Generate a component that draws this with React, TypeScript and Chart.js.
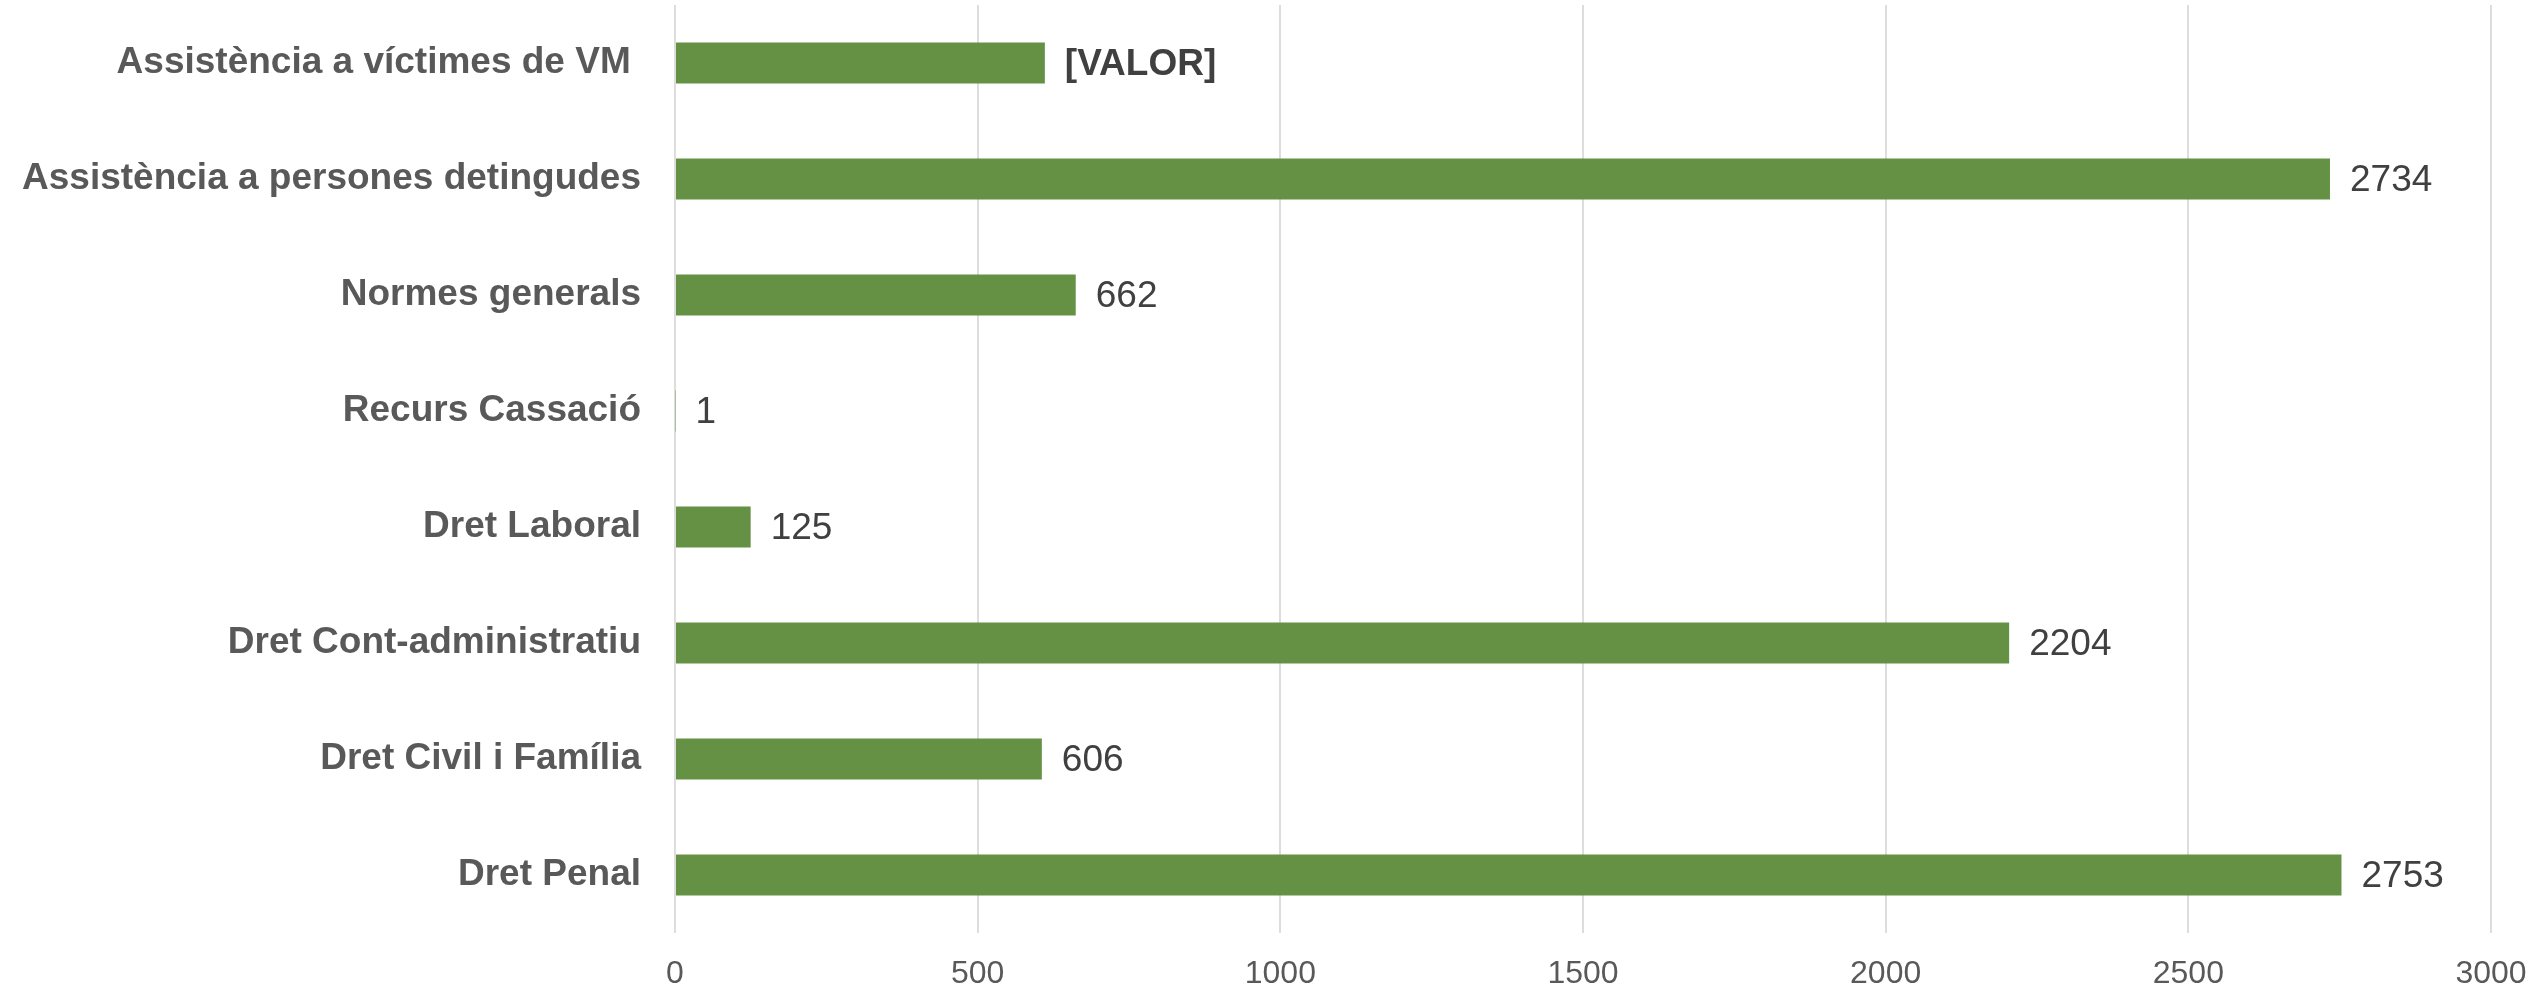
import React, { useEffect, useRef } from "react";
import { Chart, registerables } from "chart.js";

Chart.register(...registerables);

const categories = [
  "Assistència a víctimes de VM ",
  "Assistència a persones detingudes",
  "Normes generals",
  "Recurs Cassació",
  "Dret Laboral",
  "Dret Cont-administratiu",
  "Dret Civil i Família",
  "Dret Penal",
];

const values = [611, 2734, 662, 1, 125, 2204, 606, 2753];

const valueLabels = ["[VALOR]", "2734", "662", "1", "125", "2204", "606", "2753"];

const boldValueLabels = [true, false, false, false, false, false, false, false];

const xTicks = [0, 500, 1000, 1500, 2000, 2500, 3000];

const FONT = "'Liberation Sans', Arial, sans-serif";

const dataLabelPlugin = {
  id: "dataLabelPlugin",
  afterDatasetsDraw(chart: any) {
    const ctx = chart.ctx;
    const meta = chart.getDatasetMeta(0);
    ctx.save();
    ctx.textAlign = "left";
    ctx.textBaseline = "middle";
    ctx.fillStyle = "#404040";
    meta.data.forEach((el: any, i: number) => {
      ctx.font = `${boldValueLabels[i] ? "bold " : ""}37px ${FONT}`;
      ctx.fillText(valueLabels[i], el.x + 20, el.y + 2);
    });
    ctx.restore();
  },
};

export default function App() {
  const ref = useRef<HTMLCanvasElement | null>(null);

  useEffect(() => {
    if (!ref.current) return;
    const chart = new Chart(ref.current, {
      type: "bar",
      data: {
        labels: categories,
        datasets: [
          {
            data: values,
            backgroundColor: "#659145",
            borderWidth: 0,
            barPercentage: 0.706,
            categoryPercentage: 0.5,
          },
        ],
      },
      options: {
        indexAxis: "y",
        responsive: false,
        animation: false,
        devicePixelRatio: 1,
        layout: { padding: { left: 0, top: 5, right: 48, bottom: 0 } },
        plugins: {
          legend: { display: false },
          tooltip: { enabled: false },
        },
        scales: {
          x: {
            min: 0,
            max: 3000,
            afterBuildTicks: (scale: any) => {
              scale.ticks = xTicks.map((v) => ({ value: v }));
            },
            afterFit: (scale: any) => {
              scale.height = 56;
              scale.paddingLeft = 0;
              scale.paddingRight = 0;
            },
            grid: { color: "#dddddd", lineWidth: 2, drawTicks: false },
            border: { display: false },
            ticks: {
              padding: 22,
              color: "#595959",
              font: { family: FONT, size: 32 },
              maxRotation: 0,
              callback: (v: any) => String(v),
            },
          },
          y: {
            afterFit: (scale: any) => {
              scale.width = 675;
              scale.paddingTop = 0;
              scale.paddingBottom = 0;
            },
            grid: { display: false, drawTicks: false },
            border: { display: false },
            ticks: {
              padding: 34,
              color: "#595959",
              font: { family: FONT, size: 37, weight: "bold" },
            },
          },
        },
      },
      plugins: [dataLabelPlugin],
    });
    return () => chart.destroy();
  }, []);

  return (
    <div style={{ position: "fixed", left: 0, top: 0, width: 2539, height: 989, background: "#fff" }}>
      <canvas ref={ref} width={2539} height={989} style={{ display: "block" }} />
    </div>
  );
}
